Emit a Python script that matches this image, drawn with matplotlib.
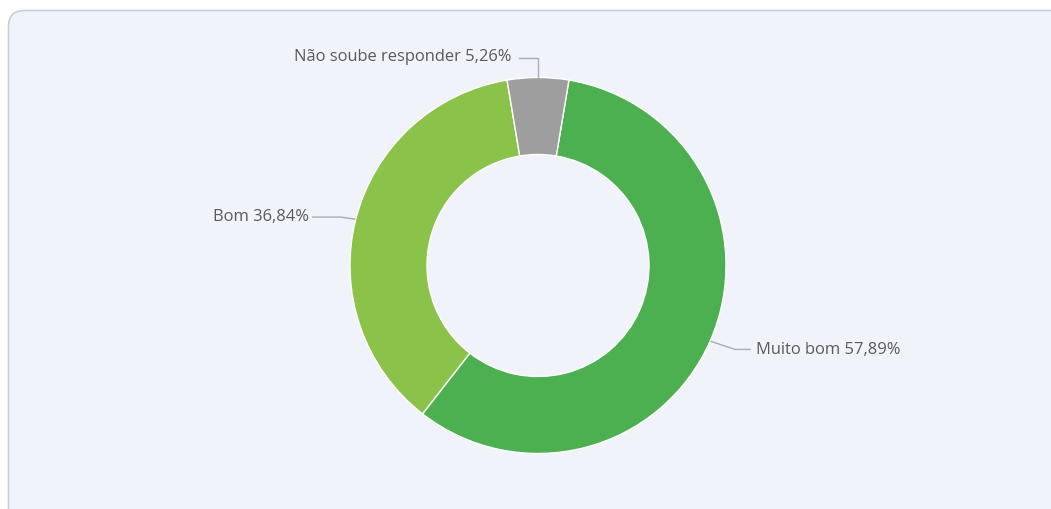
import numpy as np
import matplotlib
matplotlib.use("Agg")
import matplotlib.pyplot as plt
from matplotlib.patches import FancyBboxPatch

categories = ["Muito bom", "Bom", "Não soube responder"]
values = [57.89, 36.84, 5.26]
colors = ["#4caf50", "#8bc34a", "#9e9e9e"]
labels = ["Muito bom 57,89%", "Bom 36,84%", "Não soube responder 5,26%"]

W, H = 1051, 509
fig = plt.figure(figsize=(W / 100, H / 100), dpi=100)
fig.patch.set_facecolor("white")
ax = fig.add_axes([0, 0, 1, 1])
ax.set_xlim(0, W)
ax.set_ylim(0, H)
ax.axis("off")

# card background
card = FancyBboxPatch((8.5, -40), W + 40, H - 10 + 40 - 0.5,
                      boxstyle="round,pad=0,rounding_size=16",
                      facecolor="#f1f3fa", edgecolor="#c9cce0", linewidth=1.2, zorder=0)
ax.add_patch(card)

cx, cy = 538, H - 265.5
R = 188
Rin = 111
start = 90 - values[2] / sum(values) * 360 / 2

wedges, _ = ax.pie(values, colors=colors, startangle=start, counterclock=False,
                   center=(cx, cy), radius=R,
                   wedgeprops=dict(width=R - Rin, edgecolor="white", linewidth=1.0),
                   frame=True)
ax.set_xlim(0, W)
ax.set_ylim(0, H)
ax.set_aspect("auto")
ax.axis("off")

txt_kw = dict(fontsize=11.9, color="#5a5a5a", family=["Open Sans", "DejaVu Sans"], va="center")
line_kw = dict(color="#a8abb8", linewidth=1.0, zorder=3)

for w, lab in zip(wedges, labels):
    ang = np.deg2rad((w.theta1 + w.theta2) / 2)
    x0, y0 = cx + (R + 1) * np.cos(ang), cy + (R + 1) * np.sin(ang)
    if abs(np.cos(ang)) < 0.2:
        # top slice: vertical then left
        y1 = y0 + 19
        x2 = x0 - 19
        ax.plot([x0, x0, x2], [y0, y1, y1], **line_kw)
        ax.text(x2 - 8, y1 + 1, lab, ha="right", **txt_kw)
    elif np.cos(ang) > 0:
        x1, y1 = x0 + 24, y0 - 8
        x2 = x1 + 15
        ax.plot([x0, x1, x2], [y0, y1, y1], **line_kw)
        ax.text(x2 + 6, y1 - 1, lab, ha="left", **txt_kw)
    else:
        x1, y1 = x0 - 14, y0 + 2
        x2 = x1 - 28
        ax.plot([x0, x1, x2], [y0, y1, y1], **line_kw)
        ax.text(x2 - 4, y1 + 0.5, lab, ha="right", **txt_kw)

fig.savefig("out.png", dpi=100, facecolor="white")
